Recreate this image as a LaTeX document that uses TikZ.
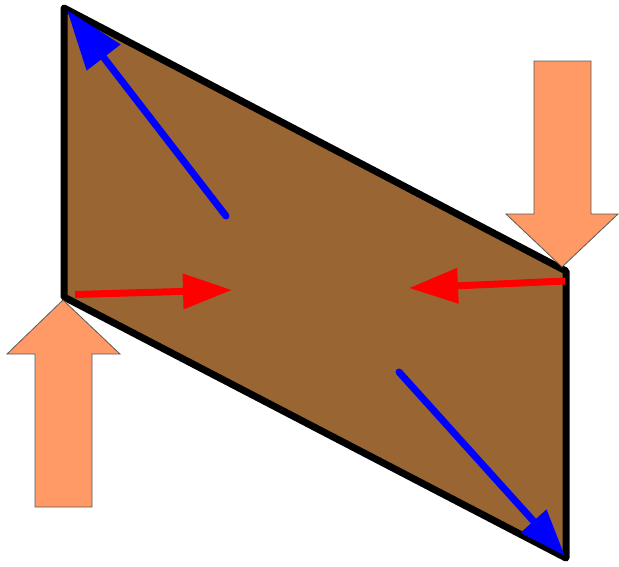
\documentclass[tikz,border=0pt]{standalone}
\usetikzlibrary{arrows.meta}
\definecolor{woodBrown}{RGB}{153,102,51}
\definecolor{pushOrange}{RGB}{255,153,102}

\begin{document}
\begin{tikzpicture}[x=1pt,y=-1pt,
      plate/.style={draw=black,line width=7pt,line join=round,fill=woodBrown},
      push/.style={draw=black!65,line width=0.8pt,fill=pushOrange},
      shear/.style={red,line width=7pt,-{Triangle[length=49pt,width=34pt]}},
      diag/.style={blue,line width=7pt,line cap=round}]
    \useasboundingbox (0,0) rectangle (619,566);
    % corners of the plate
    \coordinate (tl) at (64,8);
    \coordinate (bl) at (64,297);
    \coordinate (tr) at (566,271);
    \coordinate (br) at (566,558);
    \draw[plate] (tl) -- (tr) -- (br) -- (bl) -- cycle;
    % outside loads
    \draw[push] (534,61) -- (591,61) -- (591,214) -- (618,214) -- (562,267)
                -- (506,214) -- (534,214) -- cycle;
    \draw[push] (35,507) -- (92,507) -- (92,354) -- (120,354) -- (63,300)
                -- (7,354) -- (35,354) -- cycle;
    % shear on the edges
    \coordinate (lsrc) at (75,294.5);
    \coordinate (ltip) at (232,290);
    \coordinate (rsrc) at (565,281);
    \coordinate (rtip) at (409,288);
    \draw[shear] (lsrc) -- (ltip);
    \draw[shear] (rsrc) -- (rtip);
    % principal directions
    \coordinate (usrc) at (226,216);
    \coordinate (utip) at (67,10);
    \coordinate (dsrc) at (399,372);
    \coordinate (dtip) at (565,556);
    \draw[diag,-{Triangle[length=60pt,width=41pt]}] (usrc) -- (utip);
    \draw[diag,-{Triangle[length=47pt,width=33pt]}] (dsrc) -- (dtip);
  \end{tikzpicture}
\end{document}
